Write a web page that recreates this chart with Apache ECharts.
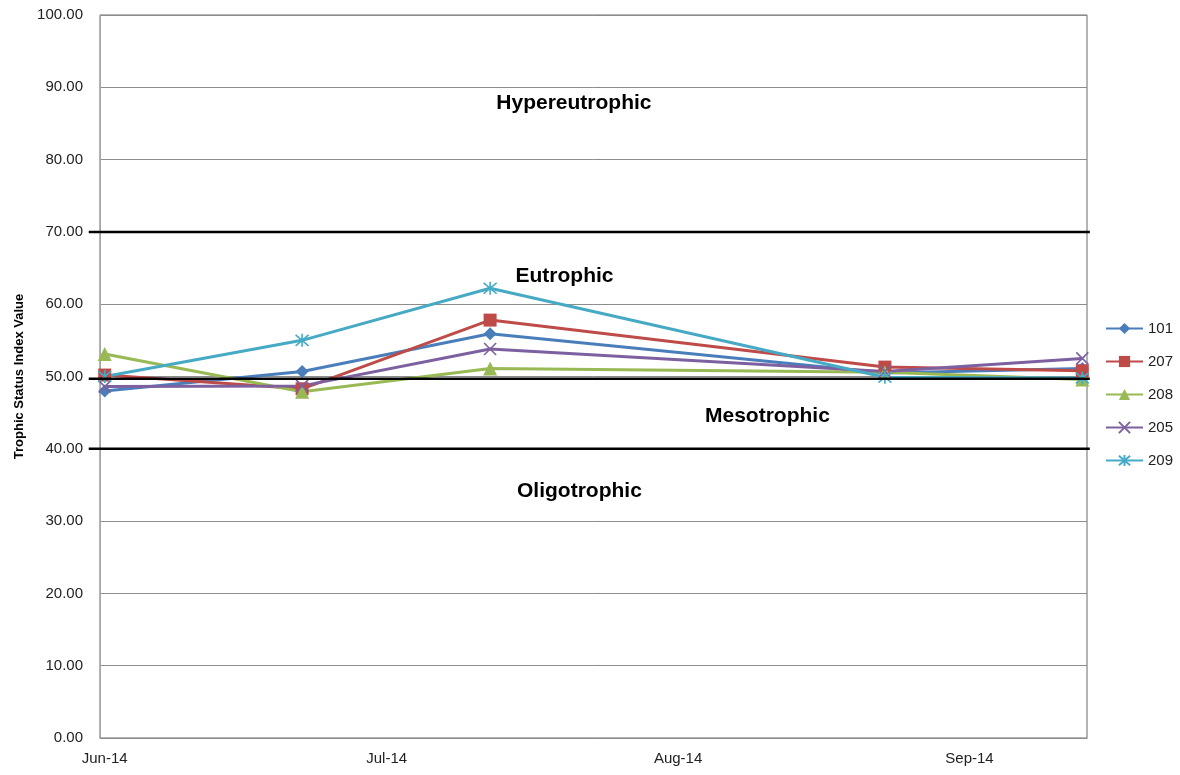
<!DOCTYPE html>
<html>
<head>
<meta charset="utf-8">
<script src="https://cdn.jsdelivr.net/npm/echarts@6/dist/echarts.min.js"></script>
<style>
  html, body { margin: 0; padding: 0; background: #fff; }
  #chart { width: 1180px; height: 775px; }
</style>
</head>
<body>
<div id="chart"></div>
<script>
// Sampling dates
const dates = ['2014-06-01', '2014-06-22', '2014-07-12', '2014-08-23', '2014-09-13'];

// Trophic Status Index per station
const s101 = [48.0, 50.7, 55.9, 50.5, 51.1];
const s207 = [50.2, 48.3, 57.8, 51.3, 50.8];
const s208 = [53.1, 47.9, 51.1, 50.6, 49.6];
const s205 = [48.6, 48.7, 53.8, 50.7, 52.5];
const s209 = [50.0, 55.0, 62.2, 49.9, 49.8];

const stationNames = ['101', '207', '208', '205', '209'];
const stationValues = [s101, s207, s208, s205, s209];

// Trophic class boundaries (drawn as heavy black lines)
const boundaries = [40, 49.7, 70];

// Trophic class labels: [date, value, text]
const zoneLabels = [
  ['2014-07-20 22:00', 87.8, 'Hypereutrophic'],
  ['2014-07-19 22:00', 63.9, 'Eutrophic'],
  ['2014-08-10 12:00', 44.5, 'Mesotrophic'],
  ['2014-07-21 12:00', 34.2, 'Oligotrophic']
];

// Y tick range
const yMin = 0, yMax = 100, yStep = 10;

const colors = ['#4A7EBB', '#BE4B48', '#98B954', '#7D60A0', '#46AAC5'];
const symbols = [
  'diamond',
  'rect',
  'triangle',
  'path://M0,0 L10,10 M10,0 L0,10',
  'path://M0,0 L10,10 M10,0 L0,10 M5,-1 L5,11'
];
const symbolSizes = [13, 13, 14, 12, 13];

const DAY = 86400000;
const axisMin = new Date(2014, 4, 31, 12).getTime();
const axisMax = new Date(2014, 8, 13, 12).getTime();

const font = '"Liberation Sans", Arial, sans-serif';

const stationSeries = stationNames.map((name, i) => {
  const isStroke = symbols[i].startsWith('path');
  return {
    name: name,
    type: 'line',
    data: dates.map((d, k) => [d, stationValues[i][k]]),
    symbol: symbols[i],
    symbolSize: symbolSizes[i],
    showSymbol: true,
    clip: false,
    z: 3,
    lineStyle: { width: 3, color: colors[i] },
    itemStyle: isStroke
      ? { color: colors[i], borderColor: colors[i], borderWidth: 1.6 }
      : { color: colors[i], borderWidth: 0 },
    emphasis: { disabled: true }
  };
});

const labelSeries = {
  name: 'zones',
  type: 'scatter',
  data: zoneLabels,
  symbolSize: 0,
  silent: true,
  z: 5,
  itemStyle: { opacity: 1 },
  label: {
    show: true,
    position: 'inside',
    formatter: p => p.data[2],
    fontFamily: font,
    fontWeight: 'bold',
    fontSize: 21,
    color: '#000'
  }
};

const chart = echarts.init(document.getElementById('chart'), null, { renderer: 'canvas' });
chart.setOption({
  animation: false,
  backgroundColor: '#fff',
  color: colors,
  textStyle: { fontFamily: font },
  grid: {
    left: 100, right: 93, top: 15, bottom: 37,
    show: true, borderColor: '#6a6a6a', borderWidth: 1, backgroundColor: 'transparent'
  },
  legend: {
    data: stationNames,
    orient: 'vertical',
    left: 1100,
    top: 316,
    itemWidth: 37,
    itemHeight: 14,
    itemGap: 18,
    textStyle: { fontFamily: font, fontSize: 15, color: '#222' }
  },
  xAxis: {
    type: 'time',
    min: axisMin,
    max: axisMax,
    minInterval: 28 * DAY,
    maxInterval: 31 * DAY,
    axisLine: { show: true, lineStyle: { color: '#8c8c8c', width: 1 } },
    axisTick: { show: false },
    splitLine: { show: false },
    axisLabel: {
      formatter: '{MMM}-{yy}',
      fontFamily: font,
      fontSize: 15,
      color: '#222',
      margin: 13,
      showMinLabel: false,
      showMaxLabel: false
    }
  },
  yAxis: {
    type: 'value',
    min: yMin,
    max: yMax,
    interval: yStep,
    name: 'Trophic Status Index Value',
    nameLocation: 'middle',
    nameGap: 74,
    nameTextStyle: { fontFamily: font, fontWeight: 'bold', fontSize: 13, color: '#000' },
    axisLine: { show: true, lineStyle: { color: '#a6a6a6', width: 1 } },
    axisTick: { show: false },
    splitLine: { show: true, lineStyle: { color: '#8c8c8c', width: 1 } },
    axisLabel: {
      formatter: v => v.toFixed(2),
      fontFamily: font,
      fontSize: 15,
      color: '#222',
      margin: 17
    }
  },
  series: [...stationSeries, labelSeries]
});

// Boundary lines: positioned through the chart's own scales, overhanging the plot a little
function drawBoundaries() {
  const lines = boundaries.map(v => {
    const a = chart.convertToPixel({ gridIndex: 0 }, [axisMin - 1.2 * DAY, v]);
    const b = chart.convertToPixel({ gridIndex: 0 }, [axisMax + 0.3 * DAY, v]);
    return {
      type: 'line',
      silent: true,
      z: 4,
      shape: { x1: a[0], y1: a[1], x2: b[0], y2: b[1] },
      style: { stroke: '#000', lineWidth: 2.5 }
    };
  });
  chart.setOption({ graphic: { elements: lines } });
}
drawBoundaries();
</script>
</body>
</html>
